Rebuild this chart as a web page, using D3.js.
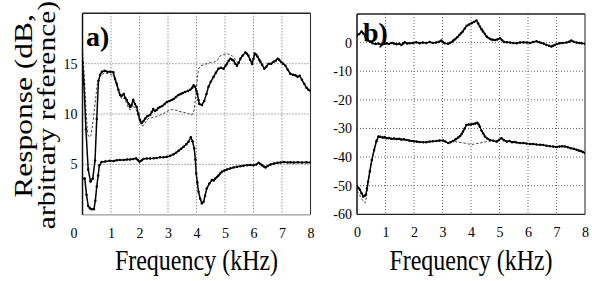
<!DOCTYPE html>
<html>
<head>
<meta charset="utf-8">
<script src="https://cdn.jsdelivr.net/npm/d3@7"></script>
<style>
  body { margin: 0; background: #fff; }
  svg { display: block; }
  svg text { font-family: "Liberation Serif", "DejaVu Serif", "Times New Roman", serif; fill: #000; }
</style>
</head>
<body>
<svg id="chart"></svg>
<script>
// frequency ticks (kHz) and response ticks (dB)
const freqTicks = [0, 1, 2, 3, 4, 5, 6, 7, 8];
const ticksA = [5, 10, 15];
const ticksB = [-60, -50, -40, -30, -20, -10, 0];

// panel a) - upper solid curve
const aUpperSolid = [[0,15.2],[0.05,13],[0.12,8.5],[0.2,4.5],[0.28,3.3],[0.36,3.6],[0.44,5.4],[0.5,9.5],[0.56,13.3],[0.62,13.9],[0.68,14.2],[0.78,14.3],[0.87,14.2],[0.97,14.2],[1.08,14.15],[1.14,13.5],[1.2,13],[1.26,12.4],[1.32,11.9],[1.37,11.8],[1.45,12.0],[1.5,11.6],[1.55,11.4],[1.62,11.0],[1.67,10.7],[1.72,10.9],[1.78,11.4],[1.84,11.0],[1.9,10.7],[1.96,10.0],[2.02,9.4],[2.08,9.1],[2.14,9.3],[2.2,9.55],[2.28,9.8],[2.37,9.9],[2.43,10.2],[2.48,10.5],[2.54,10.3],[2.6,10.4],[2.66,10.6],[2.72,10.7],[2.8,10.8],[2.88,11.0],[2.96,11.2],[3.05,11.3],[3.13,11.4],[3.2,11.5],[3.28,11.7],[3.37,11.9],[3.45,12.0],[3.52,12.1],[3.6,12.2],[3.7,12.3],[3.78,12.4],[3.85,12.6],[3.9,12.85],[3.95,12.7],[4.0,12.3],[4.03,12.0],[4.07,11.4],[4.1,11.0],[4.19,10.9],[4.27,11.3],[4.35,12.0],[4.42,12.7],[4.5,13.2],[4.6,13.7],[4.68,14.1],[4.77,14.5],[4.86,14.6],[4.95,14.5],[5.02,14.8],[5.07,15.0],[5.13,15.3],[5.19,15.5],[5.25,15.4],[5.3,15.3],[5.36,15.0],[5.42,14.8],[5.48,15.1],[5.54,15.5],[5.62,15.8],[5.71,16.1],[5.76,16.0],[5.82,15.8],[5.88,15.4],[5.95,15.0],[6.0,15.5],[6.04,16.0],[6.09,15.9],[6.14,15.7],[6.2,15.4],[6.24,15.2],[6.3,14.9],[6.38,14.5],[6.45,14.7],[6.53,15.0],[6.62,15.0],[6.71,15.2],[6.78,15.3],[6.85,15.5],[6.9,15.4],[6.96,15.2],[7.04,15.0],[7.12,14.8],[7.2,14.4],[7.29,14.0],[7.38,13.9],[7.47,13.85],[7.55,13.7],[7.62,13.8],[7.7,13.4],[7.78,13.0],[7.86,12.6],[7.93,12.4],[8.0,12.3]];

// panel a) - upper dashed curve
const aUpperDashed = [[0,16.5],[0.06,14],[0.12,10.5],[0.18,8.0],[0.24,7.7],[0.3,7.9],[0.38,9.5],[0.46,11.5],[0.52,13.0],[0.58,13.6],[0.66,13.9],[0.78,14.1],[0.9,14.0],[1.0,13.9],[1.1,13.8],[1.16,13.2],[1.22,12.6],[1.3,11.9],[1.38,11.5],[1.46,11.6],[1.54,11.1],[1.62,10.6],[1.68,10.4],[1.76,10.9],[1.84,10.6],[1.92,10.2],[2.0,9.3],[2.06,8.9],[2.14,8.85],[2.22,9.2],[2.31,9.55],[2.4,9.6],[2.5,9.7],[2.6,9.75],[2.72,9.9],[2.84,10.05],[2.96,10.25],[3.07,10.4],[3.16,10.45],[3.25,10.4],[3.36,10.3],[3.48,10.2],[3.6,10.15],[3.72,10.05],[3.84,9.9],[3.92,10.4],[3.98,12.0],[4.02,13.2],[4.07,14.5],[4.15,14.8],[4.25,14.9],[4.36,15.0],[4.48,15.1],[4.6,15.15],[4.72,15.3],[4.84,15.8],[4.95,15.9],[5.07,16.0],[5.16,15.9],[5.25,15.8],[5.32,15.6],[5.4,15.2],[5.48,15.1],[5.54,15.4]];

// panel a) - lower curve
const aLower = [[0,3.6],[0.08,3.6],[0.14,2.0],[0.2,0.87],[0.26,0.65],[0.32,0.55],[0.4,0.55],[0.45,1.4],[0.5,2.8],[0.55,3.9],[0.59,4.9],[0.67,5.25],[0.8,5.3],[0.96,5.36],[1.1,5.35],[1.2,5.42],[1.31,5.45],[1.45,5.45],[1.56,5.5],[1.67,5.5],[1.78,5.55],[1.88,5.6],[1.94,5.45],[2.0,5.26],[2.07,5.4],[2.14,5.55],[2.25,5.6],[2.37,5.6],[2.5,5.62],[2.6,5.65],[2.72,5.7],[2.84,5.72],[2.96,5.75],[3.08,5.85],[3.19,6.0],[3.28,6.15],[3.37,6.35],[3.46,6.55],[3.55,6.75],[3.64,7.0],[3.72,7.24],[3.8,7.7],[3.86,7.3],[3.92,6.6],[3.96,5.5],[3.99,4.1],[4.03,3.2],[4.07,2.3],[4.13,1.6],[4.19,1.14],[4.25,1.3],[4.3,1.9],[4.36,2.6],[4.45,3.1],[4.54,3.45],[4.6,3.4],[4.66,3.6],[4.72,3.75],[4.77,3.9],[4.83,4.1],[4.89,4.27],[4.98,4.4],[5.07,4.5],[5.18,4.6],[5.3,4.7],[5.42,4.78],[5.54,4.83],[5.65,4.88],[5.77,4.93],[5.88,4.95],[6.0,4.93],[6.1,5.0],[6.18,5.16],[6.24,5.05],[6.3,4.93],[6.36,4.8],[6.42,4.7],[6.5,4.85],[6.6,5.0],[6.72,5.1],[6.84,5.17],[6.95,5.2],[7.07,5.23],[7.2,5.2],[7.3,5.22],[7.41,5.2],[7.55,5.22],[7.7,5.2],[7.85,5.22],[8.0,5.2]];

// panel b) - upper curve
const bUpper = [[0,2.5],[0.08,3.0],[0.16,3.9],[0.22,3.2],[0.3,2.0],[0.38,1.0],[0.46,0.3],[0.55,-0.2],[0.65,-0.5],[0.75,-0.3],[0.85,-0.7],[0.95,-0.4],[1.04,-0.2],[1.12,-0.5],[1.21,-0.1],[1.3,-0.3],[1.39,-0.6],[1.48,-0.4],[1.56,-0.8],[1.62,-0.3],[1.68,0.1],[1.76,-0.3],[1.85,-0.2],[1.96,-0.1],[2.08,0.1],[2.2,-0.2],[2.31,0],[2.43,-0.1],[2.55,0.2],[2.66,-0.1],[2.78,0],[2.88,0.3],[2.96,0.7],[3.02,0.2],[3.08,-0.2],[3.2,-0.4],[3.26,-0.1],[3.32,0.2],[3.38,0.7],[3.44,1.2],[3.52,1.9],[3.59,2.7],[3.65,3.3],[3.71,3.9],[3.78,4.9],[3.85,5.9],[3.93,6.3],[4.02,6.8],[4.1,7.2],[4.19,7.7],[4.25,6.7],[4.31,5.6],[4.37,4.7],[4.42,3.9],[4.49,3.0],[4.55,2.1],[4.62,1.6],[4.69,1.2],[4.76,1.0],[4.84,0.9],[4.92,1.1],[5.02,1.5],[5.09,0.8],[5.16,0.2],[5.26,0.1],[5.37,0],[5.48,-0.1],[5.6,-0.2],[5.72,0],[5.84,0.1],[5.96,0],[6.07,-0.1],[6.18,0.2],[6.3,0.5],[6.4,0.1],[6.47,-0.1],[6.56,-0.4],[6.65,-0.8],[6.74,-1.1],[6.82,-1.4],[6.88,-1.1],[6.94,-0.8],[7.02,-0.5],[7.11,-0.2],[7.22,-0.1],[7.35,0],[7.44,0.3],[7.52,0.7],[7.6,0.3],[7.7,0],[7.8,-0.1],[7.88,-0.2],[8.0,-0.4]];

// panel b) - lower solid curve
const bLower = [[0,-50.2],[0.05,-50.8],[0.1,-51.4],[0.16,-52.6],[0.22,-53.8],[0.27,-53.5],[0.31,-53.2],[0.35,-51.0],[0.39,-48.6],[0.45,-45],[0.52,-41],[0.6,-37.5],[0.68,-34.5],[0.75,-32.8],[0.82,-32.9],[0.9,-33.2],[0.97,-33.0],[1.04,-33.4],[1.12,-33.3],[1.2,-33.6],[1.3,-33.5],[1.39,-33.7],[1.48,-33.6],[1.56,-33.9],[1.65,-33.8],[1.74,-34.0],[1.83,-34.2],[1.92,-34.4],[2.0,-34.5],[2.09,-34.6],[2.2,-34.7],[2.32,-34.8],[2.43,-34.8],[2.55,-34.6],[2.66,-34.5],[2.78,-34.4],[2.9,-34.2],[3.02,-34.2],[3.1,-34.6],[3.2,-35.1],[3.28,-34.8],[3.37,-34.4],[3.46,-33.8],[3.55,-33.2],[3.62,-32.6],[3.67,-31.9],[3.72,-31.1],[3.78,-30.0],[3.84,-28.8],[3.92,-28.6],[4.0,-28.6],[4.08,-28.4],[4.15,-28.3],[4.22,-28.0],[4.27,-28.6],[4.31,-29.4],[4.37,-30.8],[4.43,-31.8],[4.49,-32.8],[4.57,-33.5],[4.66,-34.0],[4.78,-34.3],[4.9,-34.6],[4.98,-34.0],[5.07,-33.4],[5.16,-34.1],[5.26,-34.6],[5.35,-34.4],[5.44,-34.8],[5.52,-34.7],[5.6,-34.9],[5.72,-35.1],[5.84,-35.1],[5.95,-35.3],[6.07,-35.4],[6.18,-35.4],[6.3,-35.6],[6.42,-35.7],[6.53,-35.8],[6.65,-36.0],[6.77,-36.2],[6.88,-36.3],[7.0,-36.5],[7.1,-36.3],[7.2,-36.2],[7.3,-36.3],[7.4,-36.6],[7.5,-36.9],[7.6,-37.1],[7.7,-37.4],[7.78,-37.7],[7.85,-37.9],[7.92,-38.2],[8.0,-38.6]];

// panel b) - lower dashed curve
const bLowerDashed = [[0,-52],[0.08,-53],[0.15,-54.5],[0.22,-55.4],[0.29,-56],[0.33,-54],[0.39,-49],[0.45,-45.2],[0.52,-41.2],[0.6,-37.7],[0.68,-34.7],[0.75,-33.0],[0.9,-33.3],[1.04,-33.5],[1.2,-33.7],[1.39,-33.8],[1.56,-34.0],[1.74,-34.1],[1.92,-34.5],[2.09,-34.7],[2.32,-34.9],[2.55,-34.7],[2.78,-34.5],[3.02,-34.3],[3.2,-35.0],[3.37,-34.5],[3.46,-34.6],[3.55,-34.8],[3.65,-34.9],[3.75,-35.1],[3.85,-35.3],[3.95,-35.5],[4.02,-35.6],[4.1,-35.5],[4.2,-35.3],[4.31,-35.1],[4.42,-34.9],[4.54,-34.6],[4.66,-34.4],[4.78,-34.5],[4.9,-34.6],[5.0,-34.3]];

const width = 592, height = 281;
const serif = "'Liberation Serif', 'DejaVu Serif', serif";
const svg = d3.select("#chart").attr("width", width).attr("height", height);

function drawPanel({id, xRange, yDomain, yRange, yTicks, label, labelPos, solids, dashes, zeroShift, bottomColor}) {
  const x = d3.scaleLinear().domain([0, 8]).range(xRange);
  const y = d3.scaleLinear().domain(yDomain).range(yRange);
  const g = svg.append("g");

  g.append("clipPath").attr("id", id)
    .append("rect")
      .attr("x", xRange[0]).attr("y", yRange[1])
      .attr("width", xRange[1] - xRange[0]).attr("height", yRange[0] - yRange[1]);

  // dotted grid
  const grid = g.append("g").attr("stroke", "#666").attr("stroke-width", 1)
      .attr("stroke-dasharray", "1,2");
  grid.selectAll(".gx").data(freqTicks.slice(1, -1)).join("line")
      .attr("x1", d => x(d)).attr("x2", d => x(d))
      .attr("y1", yRange[1]).attr("y2", yRange[0]);
  grid.selectAll(".gy").data(yTicks.filter(d => d > yDomain[0] && d < yDomain[1])).join("line")
      .attr("x1", xRange[0]).attr("x2", xRange[1])
      .attr("y1", d => y(d)).attr("y2", d => y(d));

  // frame, one side at a time
  const [x0, x1] = xRange, [y0, y1] = [yRange[1], yRange[0]];
  const sides = [
    [x0, y0, x1, y0, "#222", 1.4],
    [x1, y0, x1, y1, "#333", 1.1],
    [x0, y1, x1, y1, bottomColor, 1.2],
    [x0, y0, x0, y1, "#111", 1.5]
  ];
  g.append("g").selectAll("line").data(sides).join("line")
      .attr("x1", d => d[0]).attr("y1", d => d[1])
      .attr("x2", d => d[2]).attr("y2", d => d[3])
      .attr("stroke", d => d[4]).attr("stroke-width", d => d[5]);

  const line = d3.line().x(d => x(d[0])).y(d => y(d[1]));
  const plot = g.append("g").attr("clip-path", `url(#${id})`);

  dashes.forEach(s => {
    plot.append("path").datum(s).attr("d", line)
        .attr("fill", "none").attr("stroke", "#111")
        .attr("stroke-width", 0.8).attr("stroke-dasharray", "2.5,1.8");
  });
  solids.forEach(s => {
    plot.append("path").datum(s).attr("d", line)
        .attr("fill", "none").attr("stroke", "#000").attr("stroke-width", 1.5);
    plot.append("g").selectAll("circle").data(s).join("circle")
        .attr("cx", d => x(d[0])).attr("cy", d => y(d[1]))
        .attr("r", 1.25).attr("fill", "#000");
  });

  // axes
  const xAxis = g.append("g")
      .attr("transform", `translate(0,${yRange[0]})`)
      .call(d3.axisBottom(x).tickValues(freqTicks).tickSize(0).tickPadding(13));
  xAxis.select(".domain").remove();
  xAxis.selectAll("text").style("font-family", serif).style("font-size", "14px")
      .attr("dx", d => d === 0 ? zeroShift : 0);

  const yAxis = g.append("g")
      .attr("transform", `translate(${xRange[0]},0)`)
      .call(d3.axisLeft(y).tickValues(yTicks).tickSize(0).tickPadding(5)
        .tickFormat(d => d < 0 ? "-" + Math.abs(d) : d));
  yAxis.select(".domain").remove();
  yAxis.selectAll("text").style("font-family", serif).style("font-size", "14px");

  g.append("text")
      .attr("transform", `translate(${labelPos[0]},${labelPos[1]})`)
      .style("font-family", serif).style("font-size", "28px").style("font-weight", "bold")
      .text(label);

  g.append("text")
      .attr("transform", `translate(${(xRange[0] + xRange[1]) / 2},270) scale(1,1.2)`)
      .attr("text-anchor", "middle")
      .style("font-family", serif).style("font-size", "24px")
      .text("Frequency (kHz)");
}

drawPanel({
  id: "clipA", xRange: [82.5, 310.5], yDomain: [0, 20], yRange: [214.8, 13.3],
  yTicks: ticksA, label: "a)", labelPos: [86, 46],
  solids: [aUpperSolid, aLower], dashes: [aUpperDashed], zeroShift: -9, bottomColor: "#9a9a9a"
});

drawPanel({
  id: "clipB", xRange: [357, 585], yDomain: [-60, 10], yRange: [214.3, 14],
  yTicks: ticksB, label: "b)", labelPos: [363, 42],
  solids: [bUpper, bLower], dashes: [bLowerDashed], zeroShift: 0, bottomColor: "#222"
});

// shared y title, two lines
const yTitle = ["Response (dB,", "arbitrary reference)"];
svg.selectAll(".ytitle").data(yTitle).join("text")
    .attr("transform", (d, i) => `translate(${i ? 55 : 32},${i ? 115 : 106}) rotate(-90) scale(${i ? 1.18 : 1.26},1)`)
    .attr("text-anchor", "middle")
    .style("font-family", serif).style("font-size", "25px")
    .text(d => d);
</script>
</body>
</html>
